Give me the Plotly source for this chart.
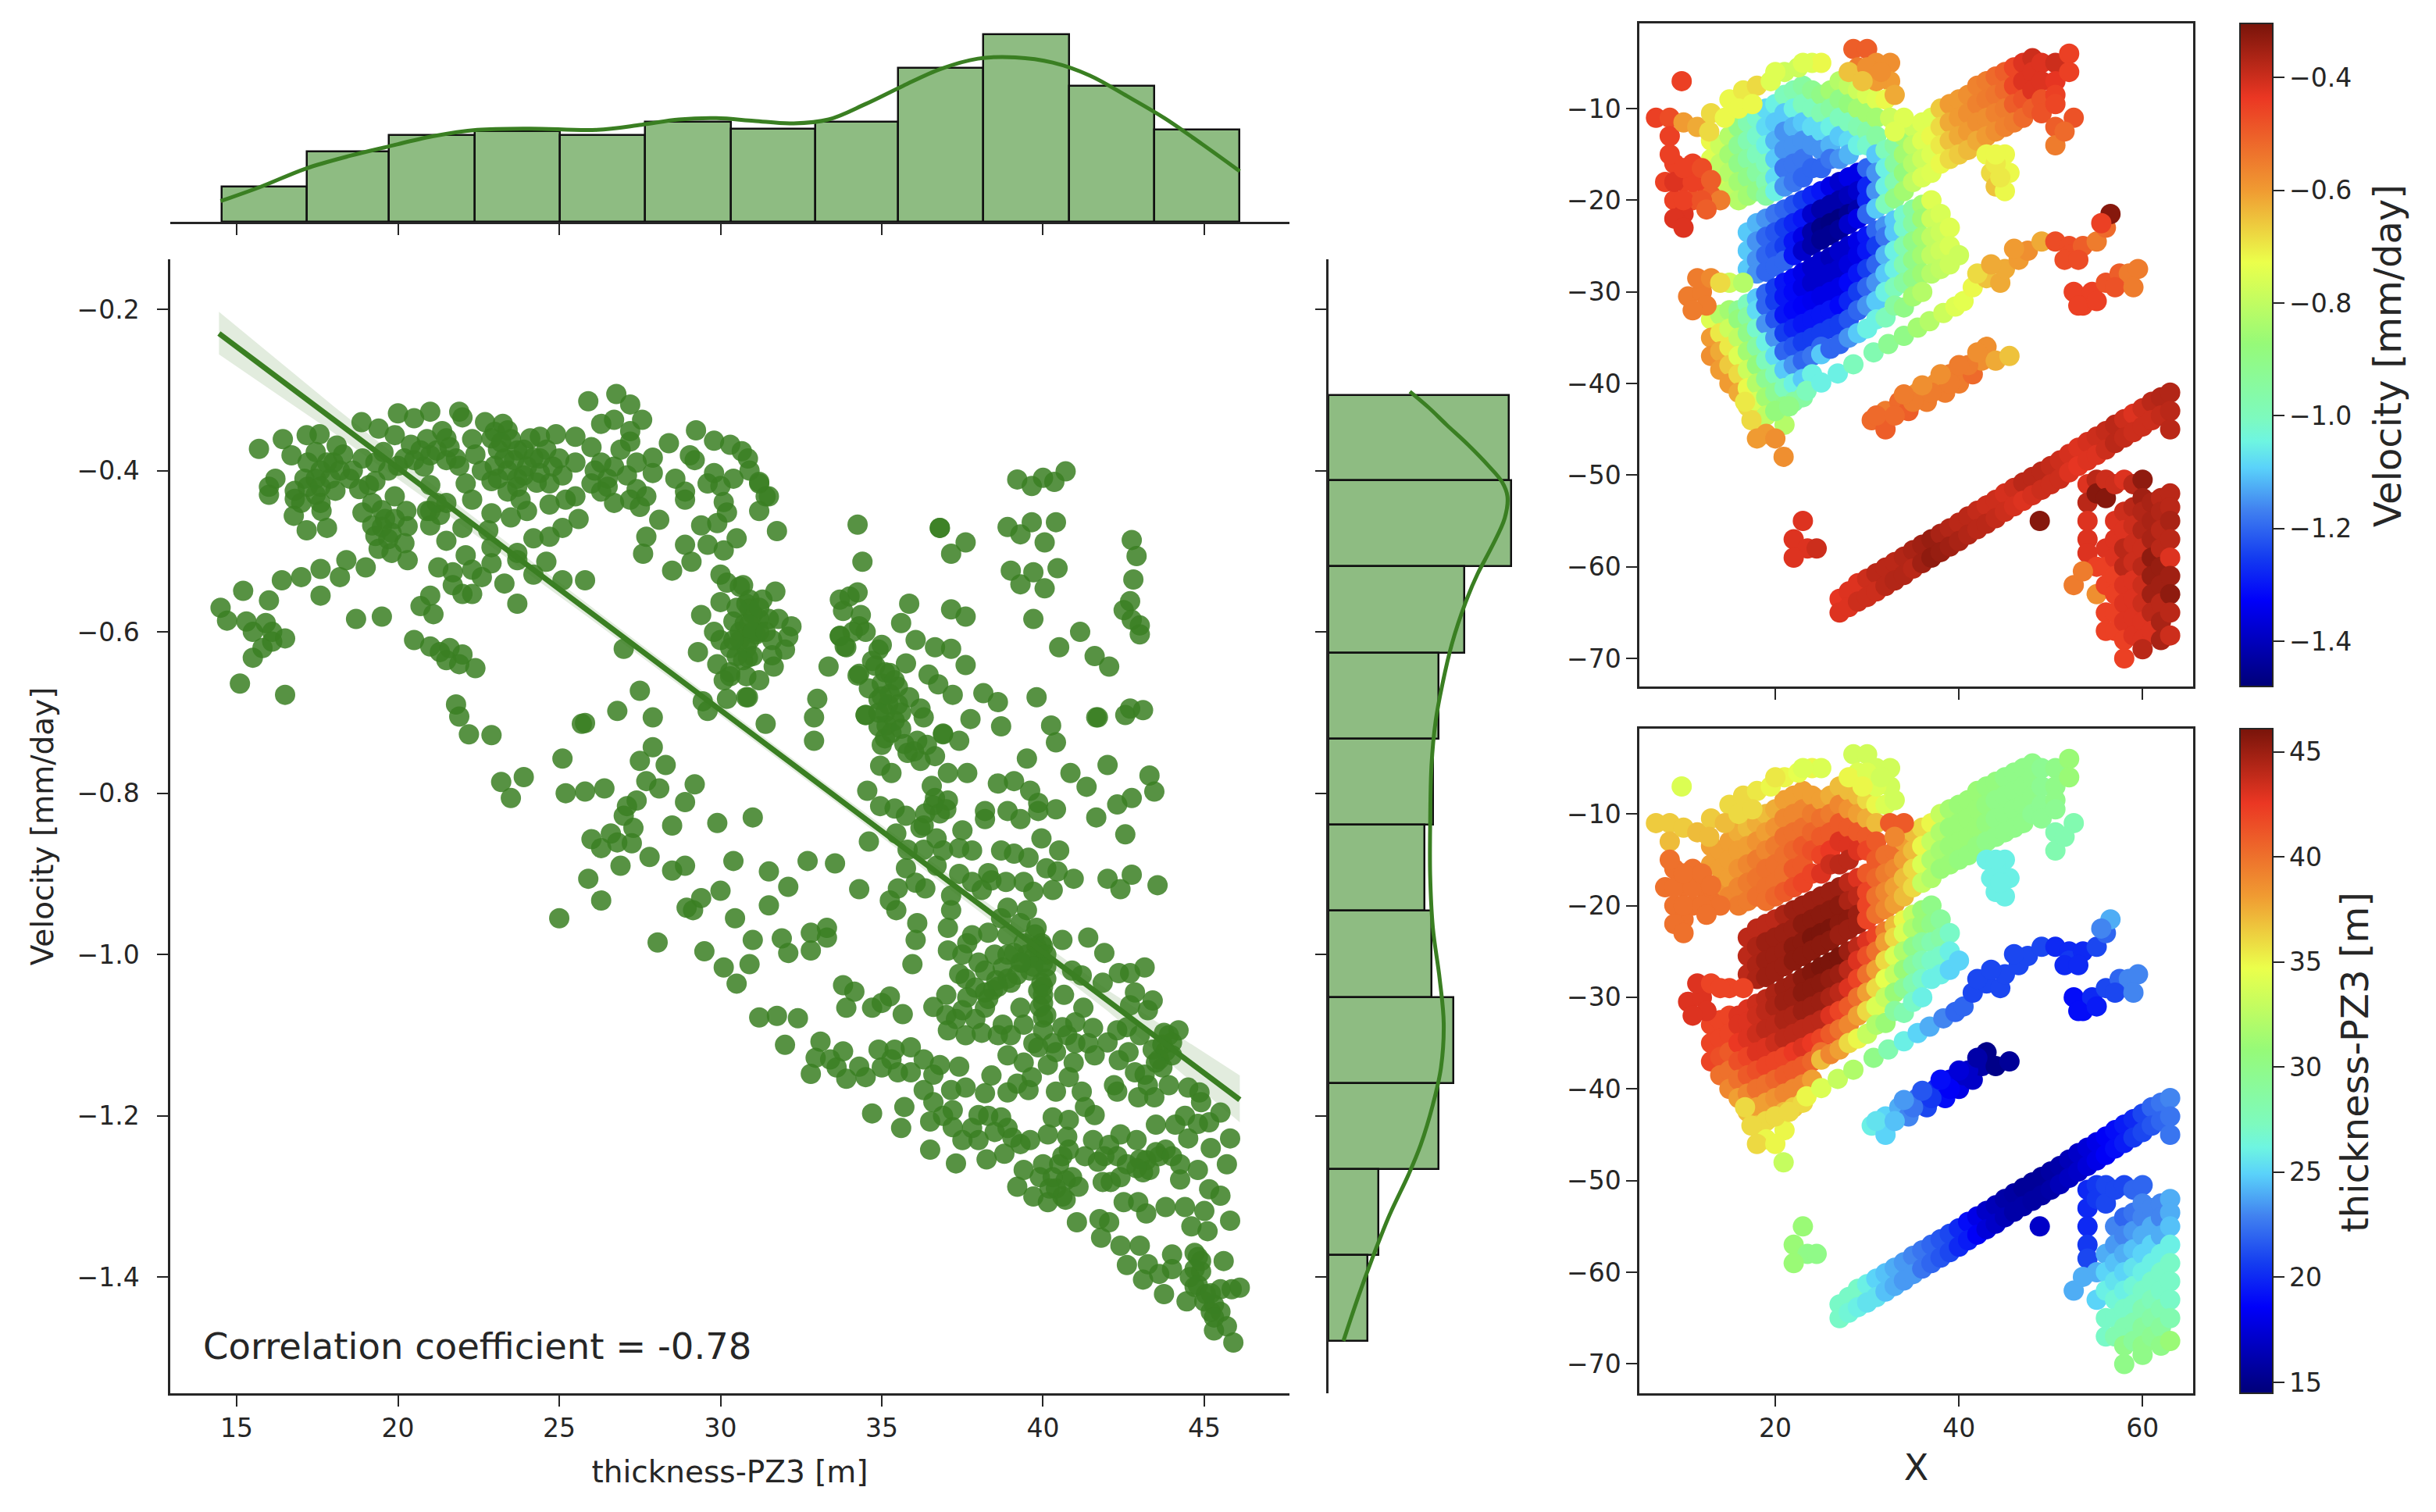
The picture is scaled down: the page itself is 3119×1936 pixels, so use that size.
import plotly.graph_objects as go

W, H = 3119, 1936
GREEN = "#3a7f22"
BAR_FILL = "rgba(60,140,40,0.58)"
DARK = "#262626"

# marginal histograms
top_edges = [14.54, 17.18, 19.72, 22.38, 25.02, 27.66, 30.32, 32.93, 35.52, 38.14, 40.8, 43.44, 46.09]
top_counts = [27, 54, 67, 70, 67, 77, 72, 77, 119, 145, 105, 71]
top_kde_x = [14.5, 15.74, 17.13, 18.52, 19.68, 21.07, 22.46, 24.08, 26.17, 27.56, 28.71, 29.87, 31.03,
             32.19, 33.35, 34.5, 35.66, 36.82, 37.98, 39.14, 40.3, 41.45, 42.61, 43.77, 44.93, 46.1]
top_kde_y = [16, 27, 41, 51, 58, 66, 71, 72, 71, 75, 79, 80, 78, 76, 79, 91, 105, 118, 126, 127, 123,
             113, 97, 80, 60, 39]

right_edges = [-0.306, -0.412, -0.519, -0.626, -0.733, -0.839, -0.946, -1.053, -1.160, -1.266, -1.373, -1.479]
right_counts = [133, 135, 100, 81, 77, 71, 76, 92, 81, 37, 29]
right_kde_y = [-0.302, -0.322, -0.343, -0.368, -0.394, -0.414, -0.432, -0.459, -0.496, -0.528, -0.564,
               -0.615, -0.665, -0.711, -0.765, -0.838, -0.902, -0.967, -1.030, -1.085, -1.140, -1.186,
               -1.236, -1.273, -1.323, -1.378, -1.424, -1.479]
right_kde_x = [60, 74, 87, 103, 118, 128, 132, 130, 120, 110, 101, 91, 84, 79, 76, 75, 75, 77, 82, 85,
               83, 77, 68, 59, 45, 32, 22, 11]

# regression line and its confidence band
fit_x = [14.45, 18, 22, 26, 30, 34, 38, 42, 46.1]
fit_y = [-0.23, -0.337, -0.457, -0.577, -0.697, -0.817, -0.937, -1.057, -1.18]
fit_hi = [-0.203, -0.320, -0.447, -0.569, -0.690, -0.810, -0.928, -1.044, -1.150]
fit_lo = [-0.256, -0.353, -0.468, -0.585, -0.704, -0.824, -0.946, -1.070, -1.208]

# thickness, velocity
scatter_upper = [
    (15.69, -.373), (16.43, -.361), (17.17, -.356), (17.57, -.355), (16.7, -.381), (17.45, -.377), (18.1, -.369),
    (18.87, -.34), (19.4, -.348), (20, -.329), (20.5, -.335), (21, -.327), (21.9, -.327), (22, -.334), (22.7, -.34),
    (23.25, -.342), (21.37, -.351), (22.3, -.361), (25.9, -.314), (26.77, -.305), (27.2, -.318), (27.57, -.337),
    (26.7, -.337), (26.3, -.342), (27.2, -.351), (27.2, -.364), (26.9, -.374), (29.24, -.35), (28.4, -.366),
    (29.8, -.363), (30.3, -.368), (30.66, -.376), (29.05, -.381), (29.2, -.387), (17.2, -.39), (17.6, -.4), (18, -.39),
    (18.3, -.38), (18.6, -.4), (17.1, -.41), (17.9, -.41), (18.5, -.41), (16.2, -.41), (16, -.42), (16, -.43),
    (16.8, -.425), (16.8, -.435), (17.45, -.43), (18.06, -.425), (17.45, -.41), (16.77, -.456), (17.63, -.45),
    (17.17, -.474), (17.8, -.471), (19.3, -.413), (18.8, -.423), (19.1, -.418), (19.2, -.44), (19.9, -.432),
    (18.9, -.452), (19.5, -.449), (20.26, -.45), (19.2, -.468), (20.3, -.469), (19.3, -.481), (19.8, -.477),
    (20.2, -.49), (19.4, -.497), (19.8, -.502), (20.3, -.511), (21, -.418), (20.9, -.45), (21, -.468), (21.5, -.44),
    (21.3, -.455), (22, -.471), (21.5, -.487), (22.3, -.436), (19.9, -.356), (20.4, -.368), (19.55, -.377),
    (20, -.394), (20.9, -.361), (21, -.381), (20.5, -.387), (21.6, -.371), (21.9, -.394), (21.5, -.387), (22.1, -.416),
    (23, -.352), (23.5, -.361), (23.1, -.374), (23.9, -.374), (24.4, -.358), (24.9, -.355), (25.5, -.358), (26, -.371),
    (23, -.394), (23.6, -.387), (24.2, -.384), (24.6, -.374), (22.9, -.413), (23.4, -.426), (23.9, -.406),
    (24.4, -.403), (25.1, -.406), (25.5, -.39), (25.5, -.432), (24.7, -.416), (24.7, -.442), (25.2, -.436),
    (23.8, -.436), (24, -.45), (23.5, -.458), (22.9, -.453), (22.8, -.474), (25.6, -.46), (25.1, -.471), (24.7, -.482),
    (24.2, -.484), (23.7, -.502), (22.9, -.495), (24.6, -.513), (22.9, -.515), (23.7, -.511), (24.2, -.529),
    (25.1, -.536), (25.8, -.536), (23.3, -.54), (23.7, -.565), (26.1, -.4), (26.5, -.41), (26, -.416), (26.3, -.426),
    (27.1, -.406), (27.4, -.39), (27.9, -.384), (27.9, -.403), (27.4, -.423), (26.7, -.44), (27.2, -.436), (27.7, -.432),
    (27.5, -.445), (28.1, -.461), (27.7, -.482), (27.6, -.503), (28.5, -.524), (29.1, -.513), (28.9, -.492),
    (29.6, -.492), (30.1, -.499), (30.5, -.484), (29.4, -.468), (29.9, -.465), (30.2, -.452), (30.1, -.439),
    (28.6, -.41), (28.9, -.426), (28.9, -.436), (29.6, -.416), (30, -.419), (30.4, -.41), (29.8, -.403), (30.9, -.4),
    (31.2, -.416), (31.4, -.432), (31.2, -.45), (31.75, -.475), (31.5, -.432), (31.2, -.414), (30.85, -.385),
]
scatter_left = [
    (16.4, -.536), (17, -.532), (17.6, -.522), (18.2, -.532), (18.4, -.511), (19, -.52), (15.2, -.549), (16, -.561),
    (17.6, -.555), (14.5, -.57), (14.7, -.586), (15.3, -.587), (15.9, -.589), (18.7, -.584), (19.5, -.581),
    (20.7, -.568), (21, -.555), (21.1, -.578), (21.25, -.52), (21.7, -.526), (22.1, -.505), (22.3, -.523),
    (22.6, -.532), (21.7, -.542), (22, -.553), (22.3, -.553), (15.5, -.6), (16.1, -.6), (15.1, -.664), (16.5, -.678),
    (15.5, -.632), (15.8, -.62), (16.1, -.612), (16.5, -.608), (20.5, -.61), (21, -.618), (21.3, -.625), (21.6, -.62),
    (22, -.628), (21.5, -.635), (21.9, -.64), (22.4, -.645), (21.8, -.69), (21.9, -.705), (22.2, -.727), (22.9, -.728),
    (23.2, -.786), (23.9, -.78), (23.5, -.806), (25.8, -.713), (30, -.529), (30.2, -.539), (30.6, -.544), (30, -.563),
    (29.4, -.579), (30.8, -.565), (31, -.578), (30.4, -.587), (31.5, -.584), (30.9, -.56), (31.3, -.56), (31.7, -.55),
    (30.7, -.542), (30.9, -.571), (31.2, -.584), (31.8, -.584), (32.2, -.593), (32.1, -.606), (32, -.622), (31.6, -.629),
    (31.65, -.643), (31.2, -.66), (30.85, -.681), (30.85, -.632), (30.75, -.59), (31.1, -.603), (29.3, -.625),
    (29.8, -.6), (30, -.61), (30.3, -.62), (30.6, -.6), (30.9, -.61), (31.2, -.6), (31.6, -.61), (29.9, -.64),
    (30.3, -.65), (30.7, -.635), (31, -.63), (30.3, -.655), (30.1, -.66), (30.8, -.655), (27, -.621), (29.45, -.686),
    (29.6, -.698), (30.2, -.683), (30.8, -.681), (27.5, -.673), (26.8, -.698), (27.9, -.706), (25.7, -.714),
    (27.9, -.743), (27.5, -.76), (28.3, -.765), (25.1, -.757), (25.2, -.8), (25.8, -.798), (26.4, -.794), (27.7, -.785),
    (28.1, -.794), (29.2, -.789), (28.9, -.811), (27.4, -.809), (27.1, -.816), (27, -.828), (27.3, -.843), (26.6, -.85),
    (26, -.857), (26.3, -.868), (26.8, -.861), (27.25, -.862), (27.8, -.879), (26.9, -.89), (25.9, -.906), (26.3, -.933),
    (25, -.955), (28.5, -.84), (28.5, -.896), (28.9, -.89), (29.9, -.837), (31, -.83), (30.4, -.884), (31.5, -.897),
    (32.1, -.916), (32.7, -.884), (33.55, -.887), (34.3, -.919), (30, -.921), (29.4, -.93), (28.95, -.942), (29.15, -.945),
    (31.5, -.939), (30.45, -.955), (28.05, -.985), (29.5, -.996), (30.1, -1.016), (30.5, -1.036), (30.9, -1.012),
    (31, -.982), (31.9, -.98), (32.1, -.998), (32.8, -.995), (33.3, -.979), (32.8, -.973), (33.3, -.967),
]
scatter_ridge = [
    (34.25, -.467), (34.4, -.513), (36.8, -.471), (36.8, -.471), (37.6, -.489), (37.15, -.503), (39.2, -.411), (39.65, -.419),
    (40, -.409), (40.35, -.414), (40.7, -.401), (38.9, -.47), (39.3, -.479), (39.65, -.464), (40.4, -.464), (40.05, -.489),
    (39, -.524), (39.3, -.541), (39.7, -.526), (40.45, -.521), (40.05, -.546), (39.7, -.584), (37.15, -.572), (37.6, -.581),
    (35.85, -.565), (35.6, -.589), (36.05, -.61), (36.65, -.619), (37.15, -.621), (37.6, -.641), (36.45, -.653),
    (36.75, -.665), (37.2, -.678), (38.15, -.676), (38.6, -.687), (37.75, -.708), (38.7, -.717), (36.9, -.727),
    (41.15, -.6), (40.5, -.619), (41.6, -.63), (42.05, -.643), (39.8, -.681), (41.7, -.706), (42.55, -.703), (42.7, -.695),
    (43.1, -.697), (40.25, -.716), (40.4, -.737), (42.75, -.486), (42.9, -.506), (42.8, -.535), (42.7, -.562),
    (42.5, -.573), (43, -.592), (43, -.603), (42.75, -.585), (33.7, -.56), (34, -.556), (34.25, -.551), (33.8, -.574),
    (34.35, -.579), (34.3, -.593), (34.5, -.6), (33.7, -.605), (33.9, -.619), (34.1, -.6), (33.35, -.643), (34.25, -.654),
    (35, -.616), (34.9, -.622), (35.75, -.639), (34.8, -.642), (35.25, -.651), (35, -.664), (35.5, -.668), (35.25, -.677),
    (35.85, -.681), (34.9, -.684), (35.5, -.69), (36.2, -.695), (34.5, -.703), (35.1, -.7), (36.3, -.706), (35.15, -.716),
    (35.1, -.732), (35.7, -.739), (33, -.683), (32.9, -.706), (32.9, -.735), (31.4, -.714), (33.7, -.605), (33.85, -.618),
    (34.7, -.636), (34.3, -.652), (34.6, -.67), (34.5, -.703), (34.9, -.717), (36, -.748), (36.2, -.76), (36.65, -.754),
    (36.9, -.726), (37.4, -.735), (34.95, -.766), (35.3, -.775), (37.05, -.775), (37.65, -.775), (39.5, -.757),
    (41.65, -.706), (42, -.765), (40.85, -.775), (41.35, -.792), (43.3, -.778), (43.45, -.798), (42.75, -.806),
    (42.3, -.814), (41.65, -.83), (42.55, -.851), (38.6, -.788), (39.1, -.785), (39.6, -.797), (39.85, -.812),
    (40.4, -.82), (38.9, -.822), (39.3, -.832), (38.2, -.822), (38.2, -.832), (39.95, -.856), (40.5, -.871), (39.85, -.822),
    (38.7, -.871), (39.1, -.875), (39.55, -.88), (40.1, -.893), (40.45, -.897), (40.95, -.906), (37.8, -.91), (38.3, -.899),
    (38.4, -.908), (38.85, -.91), (39.7, -.922), (38.9, -.942), (42, -.906), (42.75, -.901), (42.4, -.919), (43.55, -.914),
    (34.55, -.797), (34.95, -.816), (35.4, -.819), (35.75, -.828), (36.35, -.825), (36.65, -.806), (37.05, -.809),
    (36.55, -.791), (35.45, -.85), (34.6, -.86), (36.2, -.843), (36.7, -.856), (37.5, -.846), (37.4, -.868), (37.8, -.871),
    (36.9, -.871), (35.75, -.893), (36.7, -.89), (35.5, -.918), (36.35, -.918), (35.25, -.933), (35.45, -.945), (36.05, -.911),
    (37.15, -.927), (37.15, -.945), (36.1, -.961), (37.05, -.967), (36.05, -.982), (37.05, -.995), (35.95, -1.012),
    (37.4, -1.024), (37.8, -.976), (37.65, -.986), (38.3, -.973), (38.9, -.976), (38.7, -.955), (39.3, -.961), (39.5, -.945),
    (39.8, -.967), (39.4, -.986), (39.95, -.986), (40.6, -.982), (41.4, -.979), (41.9, -.998), (39.1, -.998), (39.7, -1.004),
    (38.75, -1.016), (39.35, -1.01), (38.55, -1.032), (40, -1.01), (39.95, -1.035), (38.2, -1.047), (37.9, -1.041),
    (37.65, -1.053), (38.45, -1.044), (40, -1.06), (40, -1.078), (40.9, -1.02), (40.65, -1.05), (41.2, -1.026),
    (39.9, -1.0), (39.75, -.975), (39.6, -1.02), (40.1, -1.03), (39.85, -1.045), (39.2, -1.025), (39.0, -1.035),
]
scatter_lower = [
    (41.85, -1.035), (42.35, -1.023), (42.7, -1.023), (43.15, -1.016), (42.85, -1.047), (43.4, -1.057), (42.7, -1.063),
    (43.25, -1.069), (37.5, -1.069), (37, -1.075), (38.2, -1.066), (37.05, -1.094), (37.6, -1.1), (38.1, -1.097),
    (38.75, -1.087), (39.3, -1.066), (39.4, -1.087), (40, -1.094), (40.75, -1.1), (41.25, -1.066), (41, -1.084),
    (41.55, -1.091), (42.3, -1.094), (42, -1.109), (41.6, -1.125), (38.9, -1.125), (39.4, -1.134), (39.85, -1.115),
    (40.4, -1.121), (40.15, -1.137), (39.65, -1.152), (39.55, -1.168), (40.95, -1.134), (40.8, -1.152), (42.2, -1.162),
    (42.35, -1.131), (42.65, -1.121), (43.4, -1.118), (43.7, -1.112), (44, -1.109), (44.2, -1.094), (43.75, -1.097),
    (43.5, -1.134), (43.15, -1.149), (42.85, -1.146), (42.95, -1.177), (43.45, -1.177), (43.25, -1.162), (43.9, -1.162),
    (44.5, -1.165), (44.85, -1.171), (44.9, -1.183), (31.2, -1.078), (31.75, -1.076), (32.4, -1.079), (32, -1.112),
    (33.1, -1.108), (32.95, -1.128), (32.8, -1.148), (33.8, -1.038), (34.15, -1.046), (33.9, -1.066), (34.7, -1.066),
    (35.25, -1.052), (35, -1.06), (35.65, -1.074), (36.6, -1.065), (33.8, -1.12), (33.6, -1.14), (33.9, -1.154),
    (34.3, -1.139), (34.5, -1.152), (34.9, -1.118), (35.4, -1.118), (35.9, -1.115), (35, -1.14), (35.5, -1.146),
    (35.9, -1.146), (36.3, -1.168), (36.8, -1.137), (37.4, -1.139), (36.6, -1.149), (37.6, -1.165), (37.15, -1.168),
    (38.2, -1.172), (38.9, -1.171), (36.6, -1.183), (37.2, -1.193), (34.7, -1.197), (35.7, -1.189), (35.6, -1.215),
    (36.5, -1.207), (37.2, -1.214), (36.5, -1.242), (37.3, -1.259), (38, -1.199), (38.7, -1.202), (38.5, -1.22), (38, -1.23),
    (38.25, -1.254), (38.8, -1.247), (39.05, -1.227), (39.6, -1.23), (40.15, -1.223), (40.3, -1.202), (40.8, -1.205),
    (41.3, -1.189), (41.6, -1.199), (40.75, -1.226), (39.4, -1.267), (39.2, -1.288), (39.9, -1.276), (40.15, -1.307),
    (40.7, -1.304), (41.1, -1.288), (40.5, -1.26), (40.8, -1.242), (40.9, -1.276), (40.3, -1.276), (41.55, -1.23),
    (41.7, -1.257), (41.85, -1.282), (42.05, -1.236), (42.4, -1.223), (42.6, -1.26), (43, -1.254), (43.5, -1.245),
    (43.8, -1.242), (43.5, -1.211), (44.1, -1.211), (44.5, -1.228), (44.25, -1.26), (44.8, -1.267), (44.25, -1.279),
    (43.3, -1.267), (42.4, -1.276), (42.1, -1.282), (41.05, -1.332), (41.75, -1.328), (42.05, -1.332), (41.8, -1.351),
    (42.5, -1.307), (42.95, -1.307), (43.2, -1.321), (43.8, -1.313), (44.4, -1.313), (45, -1.318), (44.6, -1.337),
    (45.1, -1.343), (45.8, -1.33), (45.15, -1.291), (45.5, -1.299), (45.7, -1.26), (45.8, -1.228), (45.15, -1.208),
    (45.5, -1.196), (42.4, -1.361), (43, -1.361), (42.6, -1.385), (43.25, -1.384), (43.1, -1.403), (43.6, -1.396),
    (44, -1.372), (44, -1.39), (43.75, -1.421), (44.45, -1.43), (44.8, -1.375), (44.55, -1.4), (44.9, -1.393), (44.7, -1.412),
    (45.05, -1.421), (45.6, -1.38), (45.5, -1.415), (46.1, -1.413), (45.85, -1.415), (45.3, -1.434), (45.5, -1.443),
    (45.2, -1.443), (45.3, -1.466), (45.7, -1.461), (45.9, -1.481),
]
# the darker knots of the cloud, where dots pile up
scatter_knots = [
    (17.8, -.39), (18.2, -.4), (18.9, -.385), (19.3, -.39), (19.7, -.4), (20.2, -.385), (20.8, -.395), (21.2, -.375),
    (21.8, -.385), (22.4, -.38), (22.6, -.4), (23.3, -.385), (23.4, -.4), (23.7, -.375), (24, -.395), (24.4, -.385),
    (24.8, -.395), (24.3, -.415), (23.7, -.42), (23.1, -.41), (25, -.385), (24.1, -.36), (23.4, -.35), (22.9, -.36),
    (21.5, -.36), (20.7, -.375), (26.3, -.39), (26.7, -.395), (26.5, -.42), (17.2, -.42), (17.6, -.42), (17, -.44),
    (17.6, -.44), (23.2, -.365), (23.7, -.41), (19.6, -.46), (19.9, -.46), (19.5, -.47), (19.7, -.485), (21.2, -.44), (21, -.45),
    (30.5, -.57), (30.9, -.59), (31.2, -.57), (30.6, -.61), (31, -.6), (30.8, -.62), (30.5, -.63), (31.4, -.6), (30.4, -.61),
    (35.1, -.65), (35.4, -.66), (35.2, -.69), (35, -.68), (35.4, -.71), (34.9, -.7), (35.3, -.725), (35.6, -.72), (35.6, -.7),
    (35, -.74), (35.8, -.75), (36.1, -.735), (36.4, -.74), (36.6, -.815), (36.8, -.825), (37, -.82), (36.3, -.84),
    (39.8, -.99), (40, -.99), (40.1, -1.0), (39.5, -1.0), (39.7, -1.015), (40.1, -1.015), (40, -1.04), (40, -1.05),
    (39.9, -1.065), (40.1, -1.075), (39.3, -1.01), (38.9, -1.03), (38.6, -1.04), (38.3, -1.055), (43.8, -1.12), (44, -1.125),
    (43.7, -1.14), (43.9, -1.1), (43.6, -1.13), (44.7, -1.39), (44.8, -1.41), (45, -1.43), (45.2, -1.42), (45.3, -1.45),
    (44.7, -1.37), (44.9, -1.38), (40.6, -1.25), (40.7, -1.28), (40.4, -1.29), (40.6, -1.3), (40.2, -1.29), (38.3, -1.2),
    (38.9, -1.215), (39.3, -1.235), (43.2, -1.255), (43.6, -1.25), (44, -1.25), (43.1, -1.27), (42.9, -1.265),
    (37.5, -1.0), (38, -1.01), (38.5, -1.0), (37.6, -1.03), (38.2, -1.02), (38.9, -1.0), (37, -1.05), (37.3, -1.08), (37.9, -1.08),
    (38.6, -1.1), (39, -1.1), (39.7, -1.11), (40.3, -1.11), (40.6, -1.09), (41, -1.11), (41.4, -1.11), (42.6, -1.09), (43, -1.1),
    (42.3, -1.17), (41.2, -1.17), (40.4, -1.17), (39.2, -1.16), (38.4, -1.15), (41.3, -1.25), (41.9, -1.25), (42.3, -1.25),
    (42.9, -1.23), (40, -1.26), (39.7, -1.3), (44.4, -1.2), (44.8, -1.21), (45.2, -1.24), (37.8, -1.215), (37.5, -1.23),
    (36.9, -1.2), (35.3, -1.13), (36.3, -1.13), (33.4, -1.13), (35.8, -.87), (36.3, -.87), (37.4, -.9), (38.1, -.92),
    (39.4, -.91), (40.3, -.92),
]

# map columns: X, [Y...], [velocity...], [thickness...]
blob_nw = [
    (13, [-13.5, -15.5], [-.72, -.75], [38, 38]),
    (14, [-14, -16, -18], [-.78, -.8, -.78], [38, 38, 38.5]),
    (15, [-13, -15, -17, -19], [-.82, -.85, -.82, -.8], [38, 38, 38, 39]),
    (16, [-12, -14, -16, -18, -20], [-.9, -.92, -.9, -.85, -.82], [37.5, 38, 38.5, 39, 39.5]),
    (17, [-11.5, -13.5, -15.5, -17.5, -19.5], [-.98, -.98, -.95, -.9, -.85], [37, 38, 39, 39.5, 39.5]),
    (18, [-11, -13, -15, -17, -19], [-1.02, -1.02, -1.0, -.95, -.9], [37.5, 38.5, 39.5, 39.8, 40]),
    (19, [-10, -12, -14, -16, -18, -19.5], [-1.08, -1.08, -1.05, -1.0, -.98, -.95], [37, 38, 39, 40, 40, 40]),
    (20, [-9.5, -11.5, -13.5, -15.5, -17.5, -19], [-1.05, -1.1, -1.12, -1.1, -1.08, -1.05], [37.5, 38.5, 39.5, 40, 40, 40.5]),
    (21, [-8.5, -10.5, -12.5, -14.5, -16.5, -18.5], [-1.0, -1.1, -1.15, -1.15, -1.18, -1.15], [38, 39, 40, 40, 40, 41]),
    (22, [-8, -10, -12, -14, -16, -18], [-.98, -1.05, -1.12, -1.15, -1.18, -1.18], [38, 39, 40, 40.5, 41, 41.5]),
    (23, [-7.5, -9.5, -11.5, -13.5, -15.5, -17.5], [-.95, -1.0, -1.1, -1.15, -1.18, -1.2], [38, 39, 40, 41, 41, 42]),
    (24, [-8, -10, -12, -14, -16.5], [-.92, -1.0, -1.08, -1.15, -1.2], [38, 39.5, 40.5, 41.5, 42]),
    (25, [-8.5, -10.5, -12.5, -14.5, -16.5], [-.9, -.98, -1.08, -1.15, -1.2], [38, 40, 41, 42, 43]),
    (26, [-8, -10, -12, -14, -15.5], [-.85, -.95, -1.05, -1.12, -1.18], [37.5, 39.5, 41, 42.5, 43.5]),
    (27, [-7, -9, -11, -13, -15.5], [-.82, -.9, -1.0, -1.1, -1.15], [37, 39, 41, 43, 44]),
    (28, [-7.5, -9.5, -11.5, -13.5, -15], [-.8, -.88, -1.0, -1.08, -1.12], [37, 38.5, 41, 43, 44]),
    (29, [-8, -10, -12, -14], [-.78, -.85, -.98, -1.05], [37, 38, 41, 43]),
    (30, [-8.5, -10.5, -12.5, -14], [-.76, -.85, -.96, -1.02], [36, 37.5, 41, 42]),
    (31, [-9, -11, -13], [-.75, -.85, -.95], [35, 37, 41]),
]
blob_center = [
    (17, [-23.5, -25.5, -27.5], [-1.1, -1.1, -1.1], [44, 44, 44]),
    (18, [-22.5, -24.5, -26.5, -28], [-1.12, -1.15, -1.15, -1.15], [44, 44.5, 44.5, 44.5]),
    (19, [-22, -24, -26, -27.8], [-1.15, -1.2, -1.2, -1.2], [44, 45, 45, 45]),
    (20, [-21.5, -23.5, -25.5, -27.2], [-1.18, -1.22, -1.22, -1.2], [44, 45, 45, 45]),
    (21, [-21, -23, -25, -26.6], [-1.2, -1.25, -1.25, -1.2], [44.5, 45, 45, 45]),
    (22, [-20.5, -22.5, -24.5, -26], [-1.22, -1.28, -1.3, -1.3], [45, 45, 45.5, 45.5]),
    (23, [-20, -22, -24, -25.5], [-1.25, -1.3, -1.35, -1.38], [45, 45.5, 45.5, 45.5]),
    (24, [-19.5, -21.5, -23.5, -24.9], [-1.28, -1.38, -1.42, -1.42], [45, 45.5, 46, 45.5]),
    (25, [-19, -21, -23, -24.3], [-1.3, -1.42, -1.46, -1.45], [45, 45.5, 46, 45.5]),
    (26, [-18.5, -20.5, -22.5, -23.8], [-1.35, -1.42, -1.47, -1.45], [45, 45.5, 46, 45.5]),
    (27, [-18, -20, -22, -23.2], [-1.38, -1.42, -1.47, -1.44], [45, 45.5, 45.5, 45]),
    (28, [-17.5, -19.5, -21.5, -22.6], [-1.35, -1.4, -1.45, -1.38], [44, 44.5, 45.5, 45]),
    (29, [-17, -19, -21, -22], [-1.35, -1.38, -1.42, -1.35], [43, 44, 45, 45]),
    (30, [-16.5, -18.5, -20, -21.5], [-1.2, -1.28, -1.28, -1.2], [41, 42, 42, 42]),
    (31, [-15, -17, -19, -20.9], [-1.1, -1.15, -1.15, -1.1], [41, 40.5, 40, 40]),
    (32, [-14.5, -16.5, -18.5, -20.4], [-1.0, -1.05, -1.05, -1.0], [40, 39.5, 39, 39]),
    (33, [-14, -16, -18, -19.8], [-.95, -.95, -.98, -.9], [40, 39, 38, 38]),
    (34, [-13, -15, -17, -19], [-.85, -.85, -.88, -.85], [38, 38, 37, 37]),
    (35, [-12, -14, -16, -18], [-.78, -.8, -.82, -.8], [37, 37, 36, 36]),
    (36, [-11.5, -13.5, -15.5, -17.5], [-.75, -.75, -.78, -.76], [36, 35, 34, 33]),
    (37, [-11, -13, -15, -17], [-.75, -.72, -.75, -.75], [35, 33, 32, 32]),
    (38, [-10, -12, -14, -16], [-.66, -.68, -.7, -.72], [33, 32, 31.5, 31]),
]
strip_ne = [
    (39, [-9.5, -11.5, -13.5, -15.5], [-.6, -.62, -.65, -.68], [31.5, 31, 31, 31]),
    (40, [-9, -11, -13, -15], [-.6, -.6, -.62, -.66], [31, 31, 31, 30.5]),
    (41, [-8.5, -10.5, -12.5, -14.5], [-.58, -.58, -.6, -.64], [31, 31, 31, 30.5]),
    (42, [-7.5, -9.5, -11.5, -13.5], [-.56, -.56, -.58, -.62], [31, 31, 31, 30.5]),
    (43, [-7, -9, -11, -13], [-.55, -.55, -.58, -.6], [30.5, 30.5, 30.5, 30]),
    (44, [-6.5, -8.5, -10.5, -12.5], [-.52, -.54, -.56, -.58], [30.5, 30, 30, 30]),
    (45, [-6, -8, -10, -12], [-.5, -.52, -.55, -.56], [30, 30, 30, 30]),
    (46, [-5.5, -7.5, -9.5, -11.5], [-.46, -.46, -.5, -.55], [30, 30, 30, 30]),
    (47, [-5, -7, -9, -11], [-.42, -.42, -.48, -.52], [30, 30, 30, 30]),
    (48, [-4.5, -6, -8, -10], [-.4, -.42, -.42, -.5], [30, 30, 30, 29.5]),
    (49, [-5, -7, -9, -10.5], [-.42, -.42, -.48, -.48], [29.5, 29.5, 29.5, 29.5]),
    (50.5, [-5, -7, -8.5, -9.5], [-.4, -.43, -.45, -.46], [30, 30, 30, 29.5]),
    (52, [-4, -6], [-.45, -.45], [31, 31]),
]
blob_south = [
    (13, [-33, -35, -37], [-.75, -.6, -.58], [42, 42, 42]),
    (14, [-32.5, -34.5, -36.5, -38.5], [-.82, -.7, -.62, -.6], [42, 42, 41.5, 40]),
    (15, [-32, -34, -36, -38, -40], [-.85, -.78, -.7, -.66, -.6], [42, 42, 41, 40, 39]),
    (16, [-32, -33, -35, -37, -39, -41], [-.92, -.88, -.8, -.75, -.68, -.62], [43, 43, 42.5, 41.5, 40, 38]),
    (17, [-31.3, -32.7, -34.5, -36.5, -38.5, -40.5, -42.5], [-1.0, -.95, -.9, -.85, -.78, -.72, -.68], [43, 43, 43, 42, 41, 39, 37]),
    (18, [-30.7, -32, -34, -36, -38, -40, -42, -44], [-1.1, -1.08, -1.02, -.95, -.88, -.82, -.76, -.7], [43.5, 43.5, 43.5, 43, 41.5, 40, 38, 36.5]),
    (19, [-30.2, -31.5, -33.5, -35.5, -37.5, -39.5, -41.5, -43.5], [-1.2, -1.2, -1.15, -1.05, -1.0, -.92, -.85, -.8], [44, 44, 44, 43, 42, 40, 38, 36]),
    (20, [-29.6, -31, -33, -35, -37, -39, -41, -43], [-1.25, -1.25, -1.22, -1.15, -1.08, -1.0, -.92, -.85], [44.5, 44.5, 44, 43.5, 42, 40.5, 38.5, 36.5]),
    (21, [-29, -30.5, -32.5, -34.5, -36.5, -38.5, -40.5, -42.5, -44.5], [-1.3, -1.3, -1.3, -1.25, -1.2, -1.1, -1.0, -.9, -.82], [45, 45, 44.5, 44, 42, 41, 39, 37, 35]),
    (22, [-28.5, -30, -32, -34, -36, -38, -40, -42], [-1.32, -1.32, -1.32, -1.28, -1.22, -1.15, -1.05, -.95], [45, 45, 44.5, 44, 42.5, 41, 39, 36.5]),
    (23, [-27.9, -29.5, -31.5, -33.5, -35.5, -37.5, -39.5, -41.5], [-1.35, -1.35, -1.33, -1.3, -1.25, -1.2, -1.1, -.95], [45.5, 45.5, 45, 44, 43, 41, 39, 36]),
    (24, [-27.3, -29, -31, -33, -35, -37, -39], [-1.38, -1.38, -1.34, -1.3, -1.25, -1.18, -1.05], [45.8, 45.5, 45, 44, 42.5, 40.5, 38]),
    (25, [-26.7, -28.5, -30.5, -32.5, -34.5, -36, -36.8], [-1.38, -1.38, -1.35, -1.3, -1.25, -1.2, -1.1], [46, 45.5, 45, 44, 42, 40, 37]),
    (26, [-26.2, -28, -30, -32, -34, -36.2], [-1.4, -1.38, -1.35, -1.3, -1.25, -1.2], [46, 45.2, 44.5, 43, 41, 39]),
    (27, [-25.6, -27.5, -29.5, -31.5, -33.5, -35.7], [-1.38, -1.38, -1.35, -1.32, -1.25, -1.2], [46, 45, 44, 42, 40, 38]),
    (28, [-25, -27, -29, -31, -33, -35], [-1.38, -1.36, -1.32, -1.28, -1.22, -1.15], [45, 44, 43, 41, 39, 36]),
    (29, [-24.5, -26, -28, -30, -32, -34.5], [-1.35, -1.35, -1.3, -1.25, -1.2, -1.1], [44, 43, 42, 40, 38, 35]),
    (30, [-23.9, -25.5, -27.5, -29.5, -31.5, -34], [-1.3, -1.3, -1.25, -1.2, -1.15, -1.05], [43, 41.5, 40, 38, 36, 33]),
    (31, [-23.3, -25, -27, -29, -31, -33], [-1.2, -1.25, -1.2, -1.15, -1.1, -1.05], [42, 40, 38, 36, 34, 32]),
    (32, [-22.8, -24, -26, -28, -30, -32.8], [-1.15, -1.18, -1.12, -1.1, -1.05, -1.0], [39.5, 38, 36, 34.5, 33, 31]),
    (33, [-22.2, -23.5, -25.5, -27.5, -29.5, -31.5], [-1.1, -1.1, -1.05, -1.05, -1.0, -.95], [37, 36, 34, 33, 31, 29]),
    (34, [-21.6, -23, -25, -27, -29, -31.7], [-1.02, -1.02, -.98, -.98, -.95, -.9], [35, 34, 32, 31, 29.5, 28]),
    (35, [-21, -22.5, -24.5, -26.5, -28.5, -30.5], [-.95, -.95, -.9, -.9, -.9, -.85], [33, 32, 30, 29, 28, 27]),
    (36, [-20.5, -22, -24, -26, -28, -30], [-.85, -.86, -.85, -.85, -.86, -.82], [31, 31, 29, 28, 27, 26]),
    (37, [-20, -22, -24, -26, -28], [-.75, -.78, -.8, -.8, -.82], [30, 30, 28, 27, 26]),
    (38, [-21.5, -23.5, -25.5, -27.5], [-.76, -.78, -.78, -.8], [29, 28.5, 27, 26]),
    (39, [-23, -25, -27], [-.75, -.76, -.78], [27, 26, 25]),
]
strip_long = [
    (27, [-63.5, -65], [-.43, -.42], [27, 27]),
    (28, [-62.7, -64.4], [-.42, -.42], [27, 26.5]),
    (29, [-61.8, -63.8], [-.42, -.4], [27, 26]),
    (30, [-61.3, -63.3], [-.4, -.4], [26, 25.5]),
    (31, [-60.7, -62.7], [-.38, -.4], [25, 25.5]),
    (32, [-60.1, -62.1], [-.38, -.38], [24.5, 24.5]),
    (33, [-59.5, -61.5], [-.38, -.37], [24, 24]),
    (34, [-58.9, -60.9], [-.37, -.37], [23.5, 23.5]),
    (35, [-58.2, -60.2], [-.36, -.38], [23, 23.5]),
    (36, [-57.6, -59.6], [-.35, -.35], [22.5, 22.5]),
    (37, [-57, -59], [-.34, -.33], [22, 22]),
    (38, [-56.4, -58.4], [-.36, -.34], [21.5, 21.5]),
    (39, [-55.8, -57.8], [-.37, -.35], [21, 21]),
    (40, [-55.2, -57.2], [-.38, -.36], [20, 20]),
    (41, [-54.5, -56.5], [-.38, -.37], [19, 19.5]),
    (42, [-53.9, -55.9], [-.39, -.38], [18, 18.5]),
    (43, [-53.3, -55.3], [-.4, -.38], [17, 17.5]),
    (44, [-52.7, -54.7], [-.4, -.39], [16.5, 17]),
    (45, [-52, -54], [-.41, -.4], [16, 16.5]),
    (46, [-51.4, -53.4], [-.4, -.41], [15.8, 16]),
    (47, [-50.8, -52.8], [-.38, -.42], [15.5, 16]),
    (48, [-50.2, -52.2], [-.38, -.41], [15.5, 15.8]),
    (49, [-49.6, -51.6], [-.38, -.4], [15.5, 15.8]),
    (50, [-49, -51], [-.39, -.4], [15.8, 16]),
    (51, [-48.4, -50.4], [-.4, -.4], [16, 16.5]),
    (52, [-47.7, -49.7], [-.41, -.42], [16.5, 16.8]),
    (53, [-47, -49], [-.42, -.43], [17, 17]),
    (54, [-46.4, -48.4], [-.41, -.42], [17.5, 17.5]),
    (55, [-45.8, -47.8], [-.4, -.42], [18, 18]),
    (56, [-45.2, -47.2], [-.39, -.4], [18.5, 18.5]),
    (57, [-44.5, -46.5], [-.38, -.38], [19, 19]),
    (58, [-43.9, -45.9], [-.4, -.39], [19.5, 19.5]),
    (59, [-43.3, -45.3], [-.42, -.4], [20, 20.5]),
    (60, [-42.7, -44.7], [-.4, -.4], [21, 21]),
    (61, [-42, -44], [-.38, -.4], [22, 21.5]),
    (62, [-41.5, -43.5], [-.37, -.39], [22.5, 22]),
    (63, [-41, -43, -45], [-.37, -.38, -.38], [23, 22.5, 22.5]),
]
block_se = [
    (54, [-51, -53, -55, -57, -58.5], [-.42, -.38, -.42, -.42, -.42], [20, 20, 20, 20.5, 21]),
    (55, [-50.5, -52, -60, -63], [-.38, -.32, -.45, -.58], [20.5, 20.5, 24, 25]),
    (56, [-50.5, -52.5, -58, -60, -62, -65, -67], [-.4, -.32, -.42, -.45, -.45, -.45, -.45], [21, 21, 24, 25, 26, 27, 27]),
    (57, [-51, -55, -57, -59, -61, -63, -65, -67], [-.4, -.42, -.42, -.42, -.45, -.45, -.45, -.45], [21, 23, 23.5, 24.5, 25.5, 26.5, 27, 28]),
    (58, [-50.5, -54, -56, -58, -60, -62, -64, -66, -68, -70], [-.42, -.4, -.42, -.38, -.38, -.42, -.42, -.42, -.45, -.45], [21, 22, 23, 24, 25, 26, 27, 28, 30, 30]),
    (59, [-51, -53.5, -55.5, -57.5, -59.5, -61.5, -63.5, -65.5, -67.5], [-.38, -.38, -.4, -.4, -.4, -.42, -.42, -.42, -.42], [22, 22.5, 23.5, 24.5, 25.5, 26.5, 27, 28, 29]),
    (60, [-50.5, -52.5, -54, -56, -58, -60, -62, -64, -66, -68, -69], [-.33, -.35, -.37, -.37, -.4, -.38, -.4, -.4, -.42, -.42, -.38], [22, 23, 23, 24, 25, 26, 27, 28, 29, 30, 30]),
    (61, [-53, -55, -57, -59, -61, -63, -65, -67], [-.36, -.36, -.36, -.33, -.34, -.35, -.38, -.42], [23, 24, 25, 26, 27, 27.5, 28.5, 29.5]),
    (62, [-52.5, -54, -56, -58, -60, -62, -64, -66, -68], [-.38, -.37, -.38, -.38, -.34, -.35, -.38, -.36, -.36], [23, 23, 24, 26, 27, 27, 28, 29, 30]),
    (63, [-52, -53.5, -55, -57, -59, -61, -63, -65, -67.5], [-.38, -.38, -.36, -.38, -.42, -.35, -.33, -.38, -.4], [24, 24, 24.5, 26, 27, 27, 27, 28, 31]),
]
# smaller patches: X, Y, velocity, thickness
map_points = [
    (9.8, -7, -.45, 34), (7, -11, -.45, 36.5), (8.5, -11, -.47, 36.5), (8.5, -13, -.45, 37), (10, -11.5, -.6, 36.5),
    (11.5, -12, -.62, 37), (9, -16, -.45, 40), (11, -16, -.45, 40), (8, -18, -.45, 40), (10, -18, -.45, 40), (12, -18, -.45, 40),
    (9, -20, -.45, 40), (11, -20, -.48, 40), (13, -19.5, -.5, 40), (14, -20, -.55, 40), (10, -21.5, -.42, 40),
    (9, -18, -.42, 40), (11, -18, -.45, 40), (10, -16.5, -.45, 40), (12, -16.5, -.47, 40), (13, -17.8, -.5, 40), (10, -20, -.45, 40),
    (12, -20, -.48, 40), (9, -22, -.42, 40), (10, -23, -.42, 40), (8.5, -15, -.45, 40), (12.5, -21, -.5, 40),
    (13, -10.5, -.68, 36.5), (12.8, -12.5, -.68, 37), (15, -9, -.72, 36), (14.5, -11, -.72, 37), (16.5, -8, -.7, 36),
    (16, -10, -.72, 36), (18, -7.5, -.68, 35.5), (17.5, -9.5, -.72, 36), (19.5, -7, -.75, 35), (21, -6, -.78, 35),
    (22.5, -5.5, -.78, 34.5), (24, -5, -.75, 35), (25, -5, -.72, 34), (23, -5, -.75, 34), (20, -6, -.75, 35.5),
    (28.5, -3.5, -.5, 33.5), (30, -3.5, -.5, 33.5), (31, -5, -.58, 33.5), (32.5, -5, -.58, 33.5), (29, -5.5, -.55, 34),
    (32.5, -7, -.6, 33.5), (31, -7, -.6, 34), (28, -6, -.65, 35), (32, -9, -.72, 34), (32.5, -11, -.78, 41), (34, -11, -.75, 41),
    (30, -5.5, -.58, 34), (29.5, -7, -.65, 35), (33, -8.5, -.62, 33.5), (31.5, -6, -.58, 33.5),
    (33, -12.5, -.75, 39), (10.5, -30.5, -.55, 43), (12, -30, -.55, 43), (12.5, -31.5, -.55, 43), (11.5, -28.5, -.55, 43),
    (13, -28.5, -.57, 42), (15, -29, -.78, 42), (16.5, -29, -.82, 42), (40, -26, -.78, 25), (14, -29, -.68, 42), (11, -32, -.55, 43),
    (20, -43, -.88, 36), (21.5, -42.5, -.9, 36), (23.4, -40.8, -1.0, 35), (25, -39.9, -1.05, 34), (26.8, -38.9, -1.05, 33),
    (28.5, -37.9, -1.0, 32), (30.7, -36.6, -.98, 30), (32.3, -35.7, -.92, 28), (34, -34.8, -.9, 26), (35.5, -33.9, -.85, 25),
    (36.8, -33.2, -.82, 24), (38.3, -32.3, -.78, 23), (39.6, -31.6, -.75, 22), (40.5, -31, -.74, 22),
    (17.4, -44, -.68, 36), (19, -45.5, -.6, 35), (18, -46, -.6, 36), (20, -46, -.58, 35), (20.9, -48, -.58, 33), (16.7, -42, -.7, 36),
    (43, -15, -.72, 26), (45, -15, -.72, 26), (43.5, -17, -.68, 26), (45.5, -17, -.72, 26), (44, -18.5, -.65, 26), (45, -19, -.72, 26),
    (44, -16, -.7, 26), (44.5, -17.5, -.7, 26), (44, -15, -.72, 26),
    (50.5, -12, -.5, 28), (52.5, -11, -.48, 28), (50.5, -14, -.55, 28), (51.5, -12.5, -.52, 28),
    (41.5, -29.5, -.72, 21), (43, -28.5, -.65, 21), (44.5, -29, -.62, 21), (45, -27.5, -.62, 21), (46.5, -26.5, -.6, 21),
    (47.5, -25.5, -.58, 21), (49, -24.5, -.62, 21), (50.5, -24.5, -.47, 20), (52, -25, -.47, 20), (52, -26, -.47, 20.5),
    (53.5, -25, -.5, 20), (55, -24.5, -.55, 21), (56, -23, -.52, 22), (56.5, -21.5, -.32, 24), (55.5, -22.5, -.45, 23),
    (42, -28, -.68, 21), (43.5, -27, -.62, 21), (46, -25.3, -.6, 21), (51.5, -26.5, -.47, 20), (53, -26.5, -.47, 20),
    (52.5, -30, -.45, 19), (53.5, -31.5, -.45, 19), (54.5, -30, -.45, 20), (56, -29, -.48, 21), (57.5, -28, -.5, 22), (58.5, -28, -.55, 23), (59.5, -27.5, -.55, 23),
    (53, -31.5, -.45, 19), (55, -31, -.45, 19.5), (57, -29.5, -.48, 21), (59, -29.5, -.55, 23),
    (30.5, -44, -.52, 26), (32, -43, -.55, 25), (32, -45, -.5, 25), (33.5, -42, -.52, 24), (34.5, -43, -.5, 23), (35.5, -41, -.58, 22),
    (36.5, -42, -.55, 21), (37.5, -40, -.58, 20), (38.5, -41, -.55, 19), (39, -39, -.55, 18), (40, -40, -.55, 18), (40.5, -38.5, -.55, 17),
    (41.5, -39, -.52, 17), (42.5, -37.5, -.58, 16), (43, -36, -.58, 15), (44, -37.5, -.62, 15), (45.5, -37, -.65, 15.5),
    (31, -43.5, -.52, 25.5), (33, -43.5, -.52, 24.5), (35, -42, -.55, 22.5), (37, -41, -.55, 20.5), (39, -40, -.55, 18.5), (41, -38, -.55, 17),
    (34, -41.2, -.55, 23.5), (36, -40.2, -.58, 21.5), (38, -39, -.58, 19), (40, -38, -.55, 17.5), (42, -36.6, -.58, 16),
    (23, -55, -.42, 31), (22, -57, -.42, 31), (23.5, -58, -.42, 30), (22, -59, -.42, 31), (24.5, -58, -.4, 30), (48.8, -55, -.32, 17),
    (52.5, -62, -.55, 24), (53.5, -60.5, -.55, 24),
]


def expand(cols):
    rows = []
    for x, ys, vels, thks in cols:
        for y, v, t in zip(ys, vels, thks):
            rows.append((x, y, v, t))
    return rows


map_rows = (expand(blob_nw) + expand(blob_center) + expand(strip_ne) + expand(blob_south)
            + expand(strip_long) + expand(block_se) + map_points)
map_x = [r[0] for r in map_rows]
map_y = [r[1] for r in map_rows]
map_vel = [r[2] for r in map_rows]
map_thk = [r[3] for r in map_rows]

all_scatter = scatter_upper + scatter_left + scatter_ridge + scatter_lower + scatter_knots

jet_soft = [
    [0.0, "rgb(0,0,120)"], [0.13, "rgb(0,0,250)"], [0.195, "rgb(20,60,240)"], [0.267, "rgb(65,130,240)"],
    [0.33, "rgb(90,210,250)"], [0.37, "rgb(110,245,225)"], [0.405, "rgb(125,250,190)"], [0.517, "rgb(150,250,120)"],
    [0.64, "rgb(235,255,75)"], [0.748, "rgb(240,155,50)"], [0.888, "rgb(235,55,35)"], [1.0, "rgb(120,20,10)"],
]


def px_x(a, b):
    return [a / W, b / W]


def px_y(top, bottom):
    return [1 - bottom / H, 1 - top / H]


fig = go.Figure()

# main scatter, band and fit
fig.add_trace(go.Scatter(x=[p[0] for p in all_scatter], y=[p[1] for p in all_scatter], mode="markers",
                         marker=dict(size=26, color=GREEN, opacity=0.85, line=dict(width=0)),
                         xaxis="x", yaxis="y", showlegend=False))
fig.add_trace(go.Scatter(x=fit_x + fit_x[::-1], y=fit_hi + fit_lo[::-1], mode="lines", fill="toself",
                         fillcolor="rgba(58,127,34,0.15)", line=dict(width=0), xaxis="x", yaxis="y", showlegend=False))
fig.add_trace(go.Scatter(x=fit_x, y=fit_y, mode="lines", line=dict(color=GREEN, width=7),
                         xaxis="x", yaxis="y", showlegend=False))

# top marginal
fig.add_trace(go.Bar(x=[(a + b) / 2 for a, b in zip(top_edges, top_edges[1:])], y=top_counts,
                     width=[b - a for a, b in zip(top_edges, top_edges[1:])],
                     marker=dict(color=BAR_FILL, line=dict(color="#111111", width=2.5)),
                     xaxis="x2", yaxis="y2", showlegend=False))
fig.add_trace(go.Scatter(x=top_kde_x, y=top_kde_y, mode="lines", line=dict(color=GREEN, width=5, shape="spline"),
                         xaxis="x2", yaxis="y2", showlegend=False))

# right marginal
fig.add_trace(go.Bar(y=[(a + b) / 2 for a, b in zip(right_edges, right_edges[1:])], x=right_counts,
                     width=[a - b for a, b in zip(right_edges, right_edges[1:])], orientation="h",
                     marker=dict(color=BAR_FILL, line=dict(color="#111111", width=2.5)),
                     xaxis="x3", yaxis="y3", showlegend=False))
fig.add_trace(go.Scatter(x=right_kde_x, y=right_kde_y, mode="lines", line=dict(color=GREEN, width=5, shape="spline"),
                         xaxis="x3", yaxis="y3", showlegend=False))

# maps
fig.add_trace(go.Scatter(x=map_x, y=map_y, mode="markers", xaxis="x4", yaxis="y4", showlegend=False,
                         marker=dict(size=26, color=map_vel, colorscale=jet_soft, cmin=-1.48, cmax=-0.304,
                                     line=dict(width=0),
                                     colorbar=dict(x=2868 / W, xanchor="left", y=1 - 879 / H, yanchor="bottom",
                                                   len=849 / H, lenmode="fraction", thickness=42, xpad=0, ypad=0,
                                                   outlinecolor=DARK, outlinewidth=2, ticks="outside", ticklen=14,
                                                   tickwidth=2, tickcolor=DARK,
                                                   tickvals=[-1.4, -1.2, -1.0, -0.8, -0.6, -0.4], tickformat=".1f",
                                                   tickprefix="\u00a0",
                                                   tickfont=dict(family="DejaVu Sans", size=33, color=DARK)))))
fig.add_trace(go.Scatter(x=map_x, y=map_y, mode="markers", xaxis="x5", yaxis="y5", showlegend=False,
                         marker=dict(size=26, color=map_thk, colorscale=jet_soft, cmin=14.48, cmax=46.1,
                                     line=dict(width=0),
                                     colorbar=dict(x=2868 / W, xanchor="left", y=1 - 1784 / H, yanchor="bottom",
                                                   len=851 / H, lenmode="fraction", thickness=42, xpad=0, ypad=0,
                                                   outlinecolor=DARK, outlinewidth=2, ticks="outside", ticklen=14,
                                                   tickwidth=2, tickcolor=DARK,
                                                   tickvals=[15, 20, 25, 30, 35, 40, 45],
                                                   tickprefix="\u00a0",
                                                   tickfont=dict(family="DejaVu Sans", size=33, color=DARK)))))

tick_font = dict(family="DejaVu Sans", size=33, color=DARK)
spine = dict(showgrid=False, zeroline=False, showline=True, linecolor=DARK, linewidth=2.5,
             ticks="outside", ticklen=14, tickwidth=2, tickcolor=DARK, tickfont=tick_font)

fig.update_layout(
    width=W, height=H, margin=dict(l=0, r=0, t=0, b=0), autosize=False,
    paper_bgcolor="white", plot_bgcolor="white", bargap=0, showlegend=False,
    font=dict(family="DejaVu Sans", color=DARK),
    xaxis=dict(domain=px_x(218, 1651), range=[12.94, 47.64], anchor="y", tickvals=[15, 20, 25, 30, 35, 40, 45],
               title=dict(text="thickness-PZ3 [m]", font=dict(family="DejaVu Sans", size=39, color=DARK), standoff=24), **spine),
    yaxis=dict(domain=px_y(332, 1784), range=[-1.544, -0.138], anchor="x", tickformat=".1f", ticklabelstandoff=16,
               tickvals=[-1.4, -1.2, -1.0, -0.8, -0.6, -0.4, -0.2],
               title=dict(text="Velocity [mm/day]", font=dict(family="DejaVu Sans", size=39, color=DARK), standoff=18), **spine),
    xaxis2=dict(domain=px_x(218, 1651), range=[12.94, 47.64], anchor="y2", tickvals=[15, 20, 25, 30, 35, 40, 45],
                showticklabels=False, **spine),
    yaxis2=dict(domain=px_y(32, 284), range=[0, 152], anchor="x2", visible=False),
    xaxis3=dict(domain=px_x(1701, 1947), range=[0, 141.75], anchor="y3", visible=False),
    yaxis3=dict(domain=px_y(332, 1784), range=[-1.544, -0.138], anchor="x3",
                tickvals=[-1.4, -1.2, -1.0, -0.8, -0.6, -0.4, -0.2], showticklabels=False, **spine),
    xaxis4=dict(domain=px_x(2099, 2808), range=[5.19, 65.5], anchor="y4", tickvals=[20, 40, 60],
                showticklabels=False, mirror=True, **spine),
    yaxis4=dict(domain=px_y(30, 879), range=[-73.07, -0.7], anchor="x4", tickvals=[-10, -20, -30, -40, -50, -60, -70],
                mirror=True, **spine),
    xaxis5=dict(domain=px_x(2099, 2808), range=[5.19, 65.5], anchor="y5", tickvals=[20, 40, 60], mirror=True,
                title=dict(text="X", font=dict(family="DejaVu Sans", size=46, color=DARK), standoff=16), **spine),
    yaxis5=dict(domain=px_y(933, 1784), range=[-73.2, -0.7], anchor="x5", tickvals=[-10, -20, -30, -40, -50, -60, -70],
                mirror=True, **spine),
)

fig.add_annotation(text="Correlation coefficient = -0.78", xref="paper", yref="paper", x=258 / W, y=1 - 1724 / H,
                   xanchor="left", yanchor="middle", showarrow=False,
                   font=dict(family="DejaVu Sans", size=46.5, color=DARK))
# colorbar titles, rotated to read upwards
fig.add_annotation(text="Velocity [mm/day]", xref="paper", yref="paper", x=3057 / W, y=1 - 456 / H,
                   xanchor="center", yanchor="middle", showarrow=False, textangle=-90,
                   font=dict(family="DejaVu Sans", size=48, color=DARK))
fig.add_annotation(text="thickness-PZ3 [m]", xref="paper", yref="paper", x=3015 / W, y=1 - 1360 / H,
                   xanchor="center", yanchor="middle", showarrow=False, textangle=-90,
                   font=dict(family="DejaVu Sans", size=48, color=DARK))

fig.write_html("out.html", post_script="document.body.style.margin='0'", config={"displayModeBar": False})
